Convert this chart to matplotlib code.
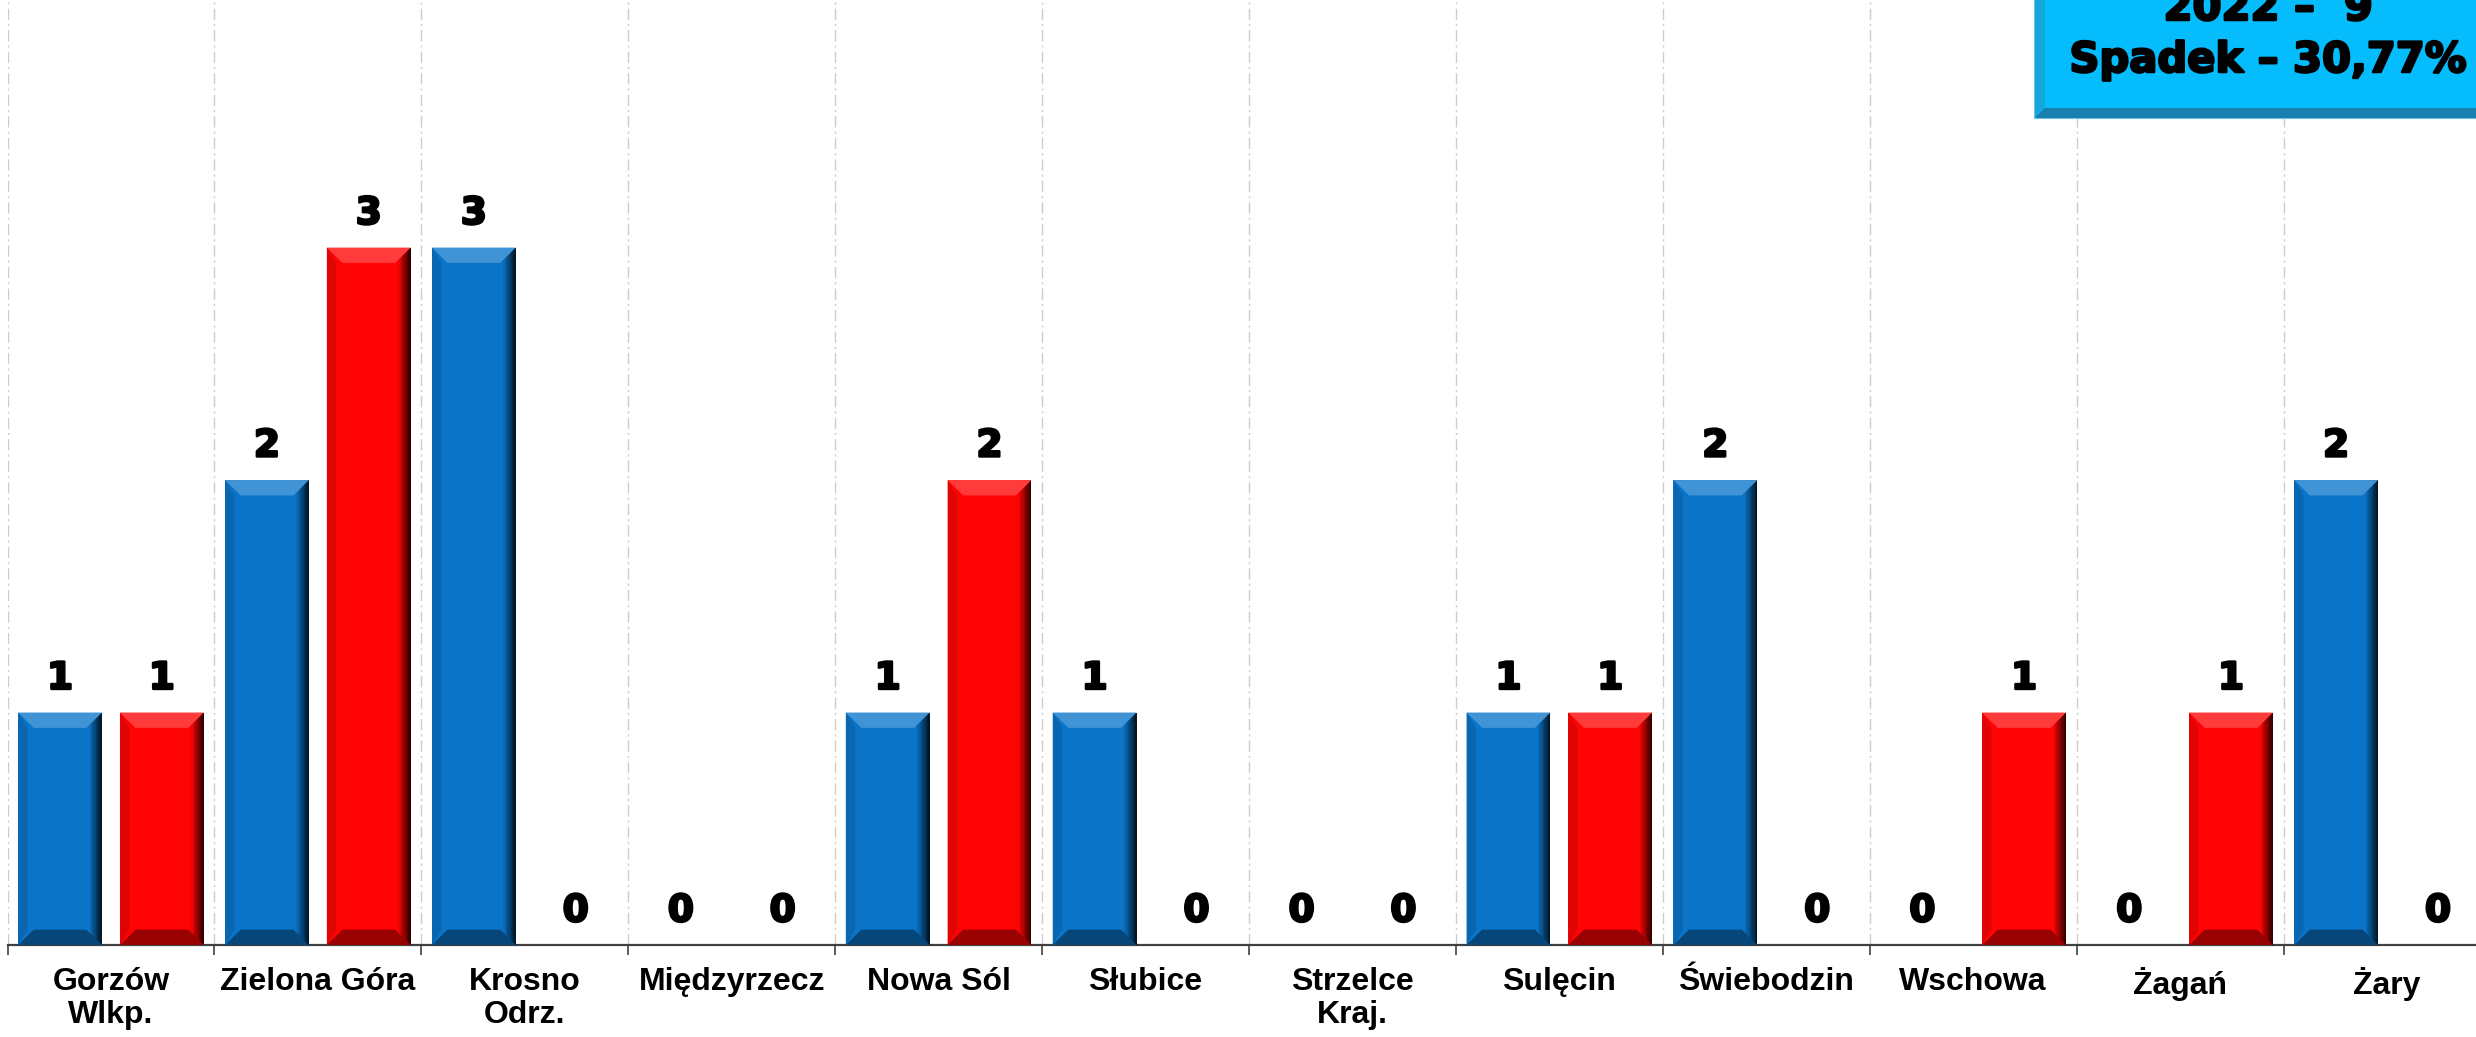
import numpy as np
import matplotlib.pyplot as plt
import matplotlib.colors as mcolors
import matplotlib.patheffects as pe
from matplotlib.patches import Polygon, Rectangle

categories = ["Gorzów\nWlkp.", "Zielona Góra", "Krosno\nOdrz.", "Międzyrzecz", "Nowa Sól",
              "Słubice", "Strzelce\nKraj.", "Sulęcin", "Świebodzin", "Wschowa", "Żagań", "Żary"]
values_2021 = [1, 2, 3, 0, 1, 1, 0, 1, 2, 0, 0, 2]
values_2022 = [1, 3, 0, 0, 2, 0, 0, 1, 0, 1, 1, 0]
box_lines = ["2022 –  9", "Spadek – 30,77%"]

BLUE = "#0A74C8"
RED = "#FF0404"
W, H = 2476, 1037
heavy = [pe.withStroke(linewidth=1.8, foreground="black")]


def shade(color, f):
    # f > 0 towards white, f < 0 towards black
    c = np.array(mcolors.to_rgb(color))
    if f >= 0:
        return tuple(c + (1 - c) * f)
    return tuple(c * (1 + f))


def bevel(ax, bar, color, bx=0.075, by=0.066):
    # fake the office "bevel" look with a few polygons
    x0, w, h = bar.get_x(), bar.get_width(), bar.get_height()
    if h <= 0:
        return
    x1 = x0 + w
    b = min(by, h / 4)
    n = 10
    for i in range(n):
        xa = x1 - bx * (1 - i / n) * 0.8
        ax.add_patch(Rectangle((xa, 0), x1 - xa, h, color=shade(color, -0.9 * (i + 1) / n * 0.9),
                               lw=0, zorder=3))
    ax.add_patch(Polygon([(x0, 0), (x0 + bx * 0.6, b), (x0 + bx * 0.6, h - b), (x0, h)],
                         color=shade(color, -0.12), lw=0, zorder=3))
    ax.add_patch(Polygon([(x0, h), (x1, h), (x1 - bx, h - b), (x0 + bx, h - b)],
                         color=shade(color, 0.22), lw=0, zorder=4))
    ax.add_patch(Polygon([(x0, 0), (x1, 0), (x1 - bx, b), (x0 + bx, b)],
                         color=shade(color, -0.4), lw=0, zorder=4))


fig = plt.figure(figsize=(W / 100, H / 100), dpi=100)
ax = fig.add_axes([7.5 / W, 92 / H, 2483 / W, 1 - 92 / H])

x = np.arange(len(categories))
off, bw = 0.246, 0.405
bars_a = ax.bar(x - off, values_2021, bw, color=BLUE, zorder=2)
bars_b = ax.bar(x + off, values_2022, bw, color=RED, zorder=2)

for bars, vals, col in [(bars_a, values_2021, BLUE), (bars_b, values_2022, RED)]:
    for bar, v in zip(bars, vals):
        bevel(ax, bar, col)
        ax.annotate(str(v), (bar.get_x() + bar.get_width() / 2, v), xytext=(0, 17),
                    textcoords="offset points", ha="center", va="baseline",
                    fontsize=27, fontweight="bold", color="black", path_effects=heavy)

ax.set_xlim(-0.5, len(categories) - 0.5)
ax.set_ylim(0, 4.065)

bounds = np.arange(len(categories) + 1) - 0.5
ax.set_xticks(bounds)
ax.set_xticklabels([])
ax.set_xticks(x, minor=True)
ax.set_xticklabels(categories, minor=True, fontsize=23, fontweight="bold",
                   family="Liberation Sans", linespacing=1.1)
ax.tick_params(axis="x", which="major", length=7.5, width=1.2, color="#404040", direction="out")
ax.tick_params(axis="x", which="minor", length=0, pad=16)
ax.grid(axis="x", which="major", ls=(0, (8, 3, 1.5, 3)), color="#CCCCCC", lw=1, zorder=0)
ax.set_yticks([])
for s in ["left", "right", "top"]:
    ax.spines[s].set_visible(False)
ax.spines["bottom"].set_color("#404040")
ax.spines["bottom"].set_linewidth(1.6)


def fx(px):
    return px / W


def fy(py):
    return 1 - py / H


# summary box in the upper right corner
bl, bb, bi = 2035, 118, 10
fig.add_artist(Rectangle((fx(bl), fy(bb)), fx(480), 160 / H, transform=fig.transFigure,
                         fc="#1A8FC0", ec="#6CC4E8", lw=1.5, zorder=5))
fig.add_artist(Polygon([(fx(bl), fy(bb)), (fx(bl + bi), fy(bb - bi)), (fx(bl + bi), fy(-40)),
                        (fx(bl), fy(-40))], closed=True, transform=fig.transFigure,
                       fc="#14A6DC", lw=0, zorder=6))
fig.add_artist(Polygon([(fx(bl), fy(bb)), (fx(2520), fy(bb)), (fx(2520), fy(bb - bi)),
                        (fx(bl + bi), fy(bb - bi))], closed=True, transform=fig.transFigure,
                       fc="#1880AE", lw=0, zorder=6))
fig.add_artist(Rectangle((fx(bl + bi), fy(bb - bi)), fx(480), 160 / H, transform=fig.transFigure,
                         fc="#05BCFD", lw=0, zorder=7))
fig.text(fx(2268), fy(20), box_lines[0], ha="center", va="baseline", fontsize=30,
         fontweight="bold", zorder=8, path_effects=heavy)
fig.text(fx(2268), fy(72), box_lines[1], ha="center", va="baseline", fontsize=30,
         fontweight="bold", zorder=8, path_effects=heavy)

fig.savefig("out.png", dpi=100)
